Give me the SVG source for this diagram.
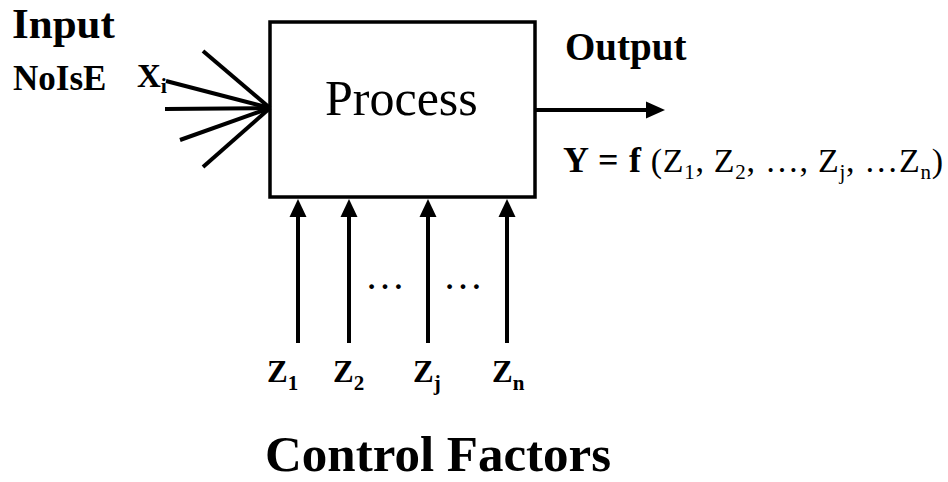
<svg xmlns="http://www.w3.org/2000/svg" width="948" height="482" viewBox="0 0 948 482">
<style>
.t{font-family:"Liberation Serif","Times New Roman","DejaVu Serif",serif;fill:#000}
.b{font-weight:bold}
.ln{stroke:#000;stroke-width:4;fill:none}
.hd{fill:#000}
</style>
<rect width="948" height="482" fill="#fff"/>
<g id="labels">
<text class="t b" x="12" y="38" font-size="43">Input</text>
<text class="t b" x="13" y="90" font-size="35">NoIsE</text>
<text class="t b" x="137" y="87" font-size="33">X<tspan font-size="22" dy="6">i</tspan></text>
<text class="t b" x="565" y="60" font-size="39">Output</text>
<text class="t" x="563" y="172" font-size="34" textLength="380" lengthAdjust="spacing"><tspan class="b" font-size="36">Y = f</tspan> (Z<tspan font-size="21" dy="7">1</tspan><tspan dy="-7">, Z</tspan><tspan font-size="21" dy="7">2</tspan><tspan dy="-7">, …, Z</tspan><tspan font-size="21" dy="7">j</tspan><tspan dy="-7">, …Z</tspan><tspan font-size="21" dy="7">n</tspan><tspan dy="-7">)</tspan></text>
<text class="t b" x="265" y="471" font-size="51">Control Factors</text>
</g>
<g id="process">
<rect x="270" y="22" width="265" height="175" fill="#fff" stroke="#000" stroke-width="3.5"/>
<text class="t" x="325" y="115" font-size="50">Process</text>
</g>
<g id="noise-inputs">
<line class="ln" x1="203" y1="51" x2="270" y2="108"/>
<line class="ln" x1="166" y1="81" x2="270" y2="108"/>
<line class="ln" x1="165" y1="109" x2="270" y2="108"/>
<line class="ln" x1="180" y1="140" x2="270" y2="108"/>
<line class="ln" x1="203" y1="167" x2="270" y2="108"/>
</g>
<g id="connectors">
<line class="ln" x1="535" y1="110" x2="650" y2="110"/>
<polygon class="hd" points="646,101.5 665,110 646,118.5"/>
<line class="ln" x1="298" y1="343" x2="298" y2="212"/>
<polygon class="hd" points="298,199 289.5,217 306.5,217"/>
<line class="ln" x1="349" y1="343" x2="349" y2="212"/>
<polygon class="hd" points="349,199 340.5,217 357.5,217"/>
<line class="ln" x1="428" y1="343" x2="428" y2="212"/>
<polygon class="hd" points="428,199 419.5,217 436.5,217"/>
<line class="ln" x1="507" y1="343" x2="507" y2="212"/>
<polygon class="hd" points="507,199 498.5,217 515.5,217"/>
</g>
<g id="control-labels">
<text class="t" x="365" y="289" font-size="40">…</text>
<text class="t" x="443" y="289" font-size="40">…</text>
<text class="t b" x="267" y="382" font-size="31">Z<tspan font-size="21" dy="8">1</tspan></text>
<text class="t b" x="333" y="382" font-size="31">Z<tspan font-size="21" dy="8">2</tspan></text>
<text class="t b" x="413" y="382" font-size="31">Z<tspan font-size="21" dy="8">j</tspan></text>
<text class="t b" x="492" y="382" font-size="31">Z<tspan font-size="21" dy="8">n</tspan></text>
</g>
</svg>
